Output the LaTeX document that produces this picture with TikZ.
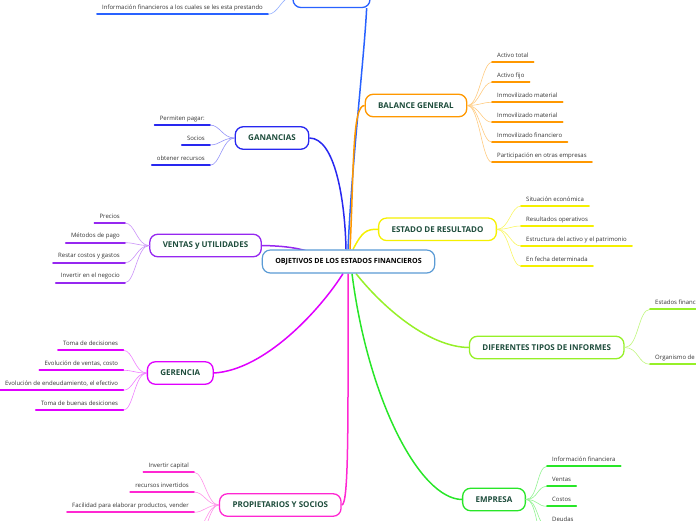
\documentclass[tikz,border=0pt]{standalone}
\usepackage{fontspec}
\setmainfont{Open Sans}
\usetikzlibrary{backgrounds}
\definecolor{cHub}{RGB}{91,155,213}
\definecolor{cTopic}{RGB}{30,77,60}
\definecolor{cLeaf}{RGB}{51,51,51}
\definecolor{cInf}{RGB}{41,98,255}
\definecolor{cBal}{RGB}{255,152,0}
\definecolor{cRes}{RGB}{245,240,0}
\definecolor{cGan}{RGB}{40,40,240}
\definecolor{cVen}{RGB}{150,40,240}
\definecolor{cGer}{RGB}{224,0,255}
\definecolor{cPro}{RGB}{255,40,210}
\definecolor{cDif}{RGB}{150,240,40}
\definecolor{cEmp}{RGB}{40,230,40}
\tikzset{
  hub/.style={draw=cHub, line width=1.2pt, rounded corners=8pt, fill=white,
    inner xsep=13pt, minimum height=23pt, font=\bfseries\fontsize{7.1}{8}\selectfont},
  topic/.style={line width=1.3pt, rounded corners=8pt, fill=white, inner xsep=13pt,
    minimum height=22.5pt, text=cTopic, font=\bfseries\fontsize{8}{9}\selectfont},
  leaf/.style={inner xsep=5pt, inner ysep=3.3pt, text height=5pt, text depth=1.5pt,
    text=cLeaf, font=\fontsize{6}{7}\selectfont},
  twig/.style={line width=0.6pt},
  uline/.style={line width=1.8pt},
  spoke/.style={line width=1.5pt},
}
\begin{document}
\begin{tikzpicture}[x=1pt, y=-1pt, line cap=round]
\useasboundingbox (0,0) rectangle (696,520);
% Main topics
\node[hub] (obj) at (348.5,261.5) {OBJETIVOS DE LOS ESTADOS FINANCIEROS};
\node[topic, draw=cInf, minimum width=77pt] (inf) at (331.5,-3.7) {};
\node[topic, draw=cBal] (bal) at (416,105.5) {BALANCE GENERAL};
\node[topic, draw=cRes] (res) at (437.5,229.3) {ESTADO DE RESULTADO};
\node[topic, draw=cGan] (gan) at (272,138) {GANANCIAS};
\node[topic, draw=cVen] (ven) at (205.5,245.5) {VENTAS y UTILIDADES};
\node[topic, draw=cGer] (ger) at (180.3,373) {GERENCIA};
\node[topic, draw=cPro] (pro) at (280.3,505) {PROPIETARIOS Y SOCIOS};
\node[topic, draw=cDif] (dif) at (546.7,347.5) {DIFERENTES TIPOS DE INFORMES};
\node[topic, draw=cEmp] (emp) at (494,499.5) {EMPRESA};
% Spokes from the central topic, behind the boxes
\begin{scope}[on background layer]
  \draw[spoke, cInf] ([xshift=-0.5pt]obj.north) .. controls (352,160) and (364,60) .. ([xshift=-4pt]inf.south east);
  \draw[spoke, cBal] ([xshift=1.5pt]obj.north) .. controls (354,170) and (352,105) .. (bal.west);
  \draw[spoke, cRes] ([xshift=4.5pt]obj.north) .. controls (362,232) and (366,229) .. (res.west);
  \draw[spoke, cGan] (gan.east) .. controls (335,138) and (345,200) .. ([xshift=-2.5pt]obj.north);
  \draw[spoke, cVen] (ven.east) .. controls (290,246) and (310,249) .. ([xshift=-18pt]obj.center);
  \draw[spoke, cGer] (ger.east) .. controls (265,370) and (320,310) .. ([xshift=-5.5pt]obj.south);
  \draw[spoke, cPro] ([xshift=-0.5pt]obj.south) .. controls (348,420) and (349,505) .. (pro.east);
  \draw[spoke, cEmp] ([xshift=3.5pt]obj.south) .. controls (368,400) and (420,499) .. (emp.west);
  \draw[spoke, cDif] ([xshift=7.5pt]obj.south) .. controls (385,310) and (430,347) .. (dif.west);
\end{scope}
% Top box (cut off)
\node[leaf, anchor=south east] (inf1) at (268,14.3) {Información financieros a los cuales se les esta prestando};
\draw[twig, cInf!50] (inf1.south east) .. controls +(10,0) and +(-10,0) .. (inf.west);
\draw[uline, cInf] (inf1.south west) -- (inf1.south east);
% BALANCE GENERAL
\begin{scope}[every node/.style={leaf, anchor=south west}]
  \node (bal1) at (492,62.3) {Activo total};
  \node (bal2) at (492,82.3) {Activo fijo};
  \node (bal3) at (492,102.3) {Inmovilizado material};
  \node (bal4) at (492,122.3) {Inmovilizado material};
  \node (bal5) at (492,142.3) {Inmovilizado financiero};
  \node (bal6) at (492,162.3) {Participación en otras empresas};
\end{scope}
\foreach \n in {bal1,bal2,bal3,bal4,bal5,bal6} {
  \draw[twig, cBal!50] (bal.east) .. controls +(12,0) and +(-10,0) .. (\n.south west);
  \draw[uline, cBal] (\n.south west) -- (\n.south east);
}
% ESTADO DE RESULTADO
\begin{scope}[every node/.style={leaf, anchor=south west}]
  \node (res1) at (521,206) {Situación económica};
  \node (res2) at (521,226) {Resultados operativos};
  \node (res3) at (521,246) {Estructura del activo y el patrimonio};
  \node (res4) at (521,266.3) {En fecha determinada};
\end{scope}
\foreach \n in {res1,res2,res3,res4} {
  \draw[twig, cRes!60] (res.east) .. controls +(12,0) and +(-10,0) .. (\n.south west);
  \draw[uline, cRes] (\n.south west) -- (\n.south east);
}
% GANANCIAS
\begin{scope}[every node/.style={leaf, anchor=south east}]
  \node (gan1) at (210,125) {Permiten pagar:};
  \node (gan2) at (210,145) {Socios};
  \node (gan3) at (210,165.3) {obtener recursos};
\end{scope}
\foreach \n in {gan1,gan2,gan3} {
  \draw[twig, cGan!50] (gan.west) .. controls +(-12,0) and +(10,0) .. (\n.south east);
  \draw[uline, cGan] (\n.south west) -- (\n.south east);
}
% VENTAS y UTILIDADES
\begin{scope}[every node/.style={leaf, anchor=south east}]
  \node (ven1) at (125,223) {Precios};
  \node (ven2) at (125,242.7) {Métodos de pago};
  \node (ven3) at (125,262.7) {Restar costos y gastos};
  \node (ven4) at (125,282.7) {Invertir en el negocio};
\end{scope}
\foreach \n in {ven1,ven2,ven3,ven4} {
  \draw[twig, cVen!50] (ven.west) .. controls +(-12,0) and +(10,0) .. (\n.south east);
  \draw[uline, cVen] (\n.south west) -- (\n.south east);
}
% GERENCIA
\begin{scope}[every node/.style={leaf, anchor=south east}]
  \node (ger1) at (123.3,350.3) {Toma de decisiones};
  \node (ger2) at (123.3,370.3) {Evolución de ventas, costo};
  \node (ger3) at (123.3,390.3) {Evolución de endeudamiento, el efectivo};
  \node (ger4) at (123.3,410.3) {Toma de buenas desiciones};
\end{scope}
\foreach \n in {ger1,ger2,ger3,ger4} {
  \draw[twig, cGer!50] (ger.west) .. controls +(-12,0) and +(10,0) .. (\n.south east);
  \draw[uline, cGer] (\n.south west) -- (\n.south east);
}
% PROPIETARIOS Y SOCIOS
\begin{scope}[every node/.style={leaf, anchor=south east}]
  \node (pro1) at (194,472.3) {Invertir capital};
  \node (pro2) at (194,492) {recursos invertidos};
  \node (pro3) at (194,512.3) {Facilidad para elaborar productos, vender};
\end{scope}
\coordinate (pro4) at (194,532.3);
\coordinate (pro5) at (194,552.3);
\foreach \n in {pro1,pro2,pro3} {
  \draw[twig, cPro!50] (pro.west) .. controls +(-12,0) and +(10,0) .. (\n.south east);
  \draw[uline, cPro] (\n.south west) -- (\n.south east);
}
\foreach \n in {pro4,pro5}
  \draw[twig, cPro!50] (pro.west) .. controls +(-12,0) and +(10,0) .. (\n);
% DIFERENTES TIPOS DE INFORMES
\begin{scope}[every node/.style={leaf, anchor=south west}]
  \node (dif1) at (650,309.3) {Estados financieros};
  \node (dif2) at (650,364.3) {Organismo de};
\end{scope}
\foreach \n in {dif1,dif2} {
  \draw[twig, cDif!60] (dif.east) .. controls +(14,0) and +(-12,0) .. (\n.south west);
  \draw[uline, cDif] (\n.south west) -- ++(60,0);
}
% EMPRESA
\begin{scope}[every node/.style={leaf, anchor=south west}]
  \node (emp1) at (547,466.3) {Información financiera};
  \node (emp2) at (547,486.3) {Ventas};
  \node (emp3) at (547,506.3) {Costos};
  \node (emp4) at (547,526.3) {Deudas};
\end{scope}
\coordinate (emp5) at (547,546.3);
\foreach \n in {emp1,emp2,emp3,emp4} {
  \draw[twig, cEmp!50] (emp.east) .. controls +(12,0) and +(-10,0) .. (\n.south west);
  \draw[uline, cEmp] (\n.south west) -- (\n.south east);
}
\draw[twig, cEmp!50] (emp.east) .. controls +(12,0) and +(-10,0) .. (emp5);
\end{tikzpicture}
\end{document}
